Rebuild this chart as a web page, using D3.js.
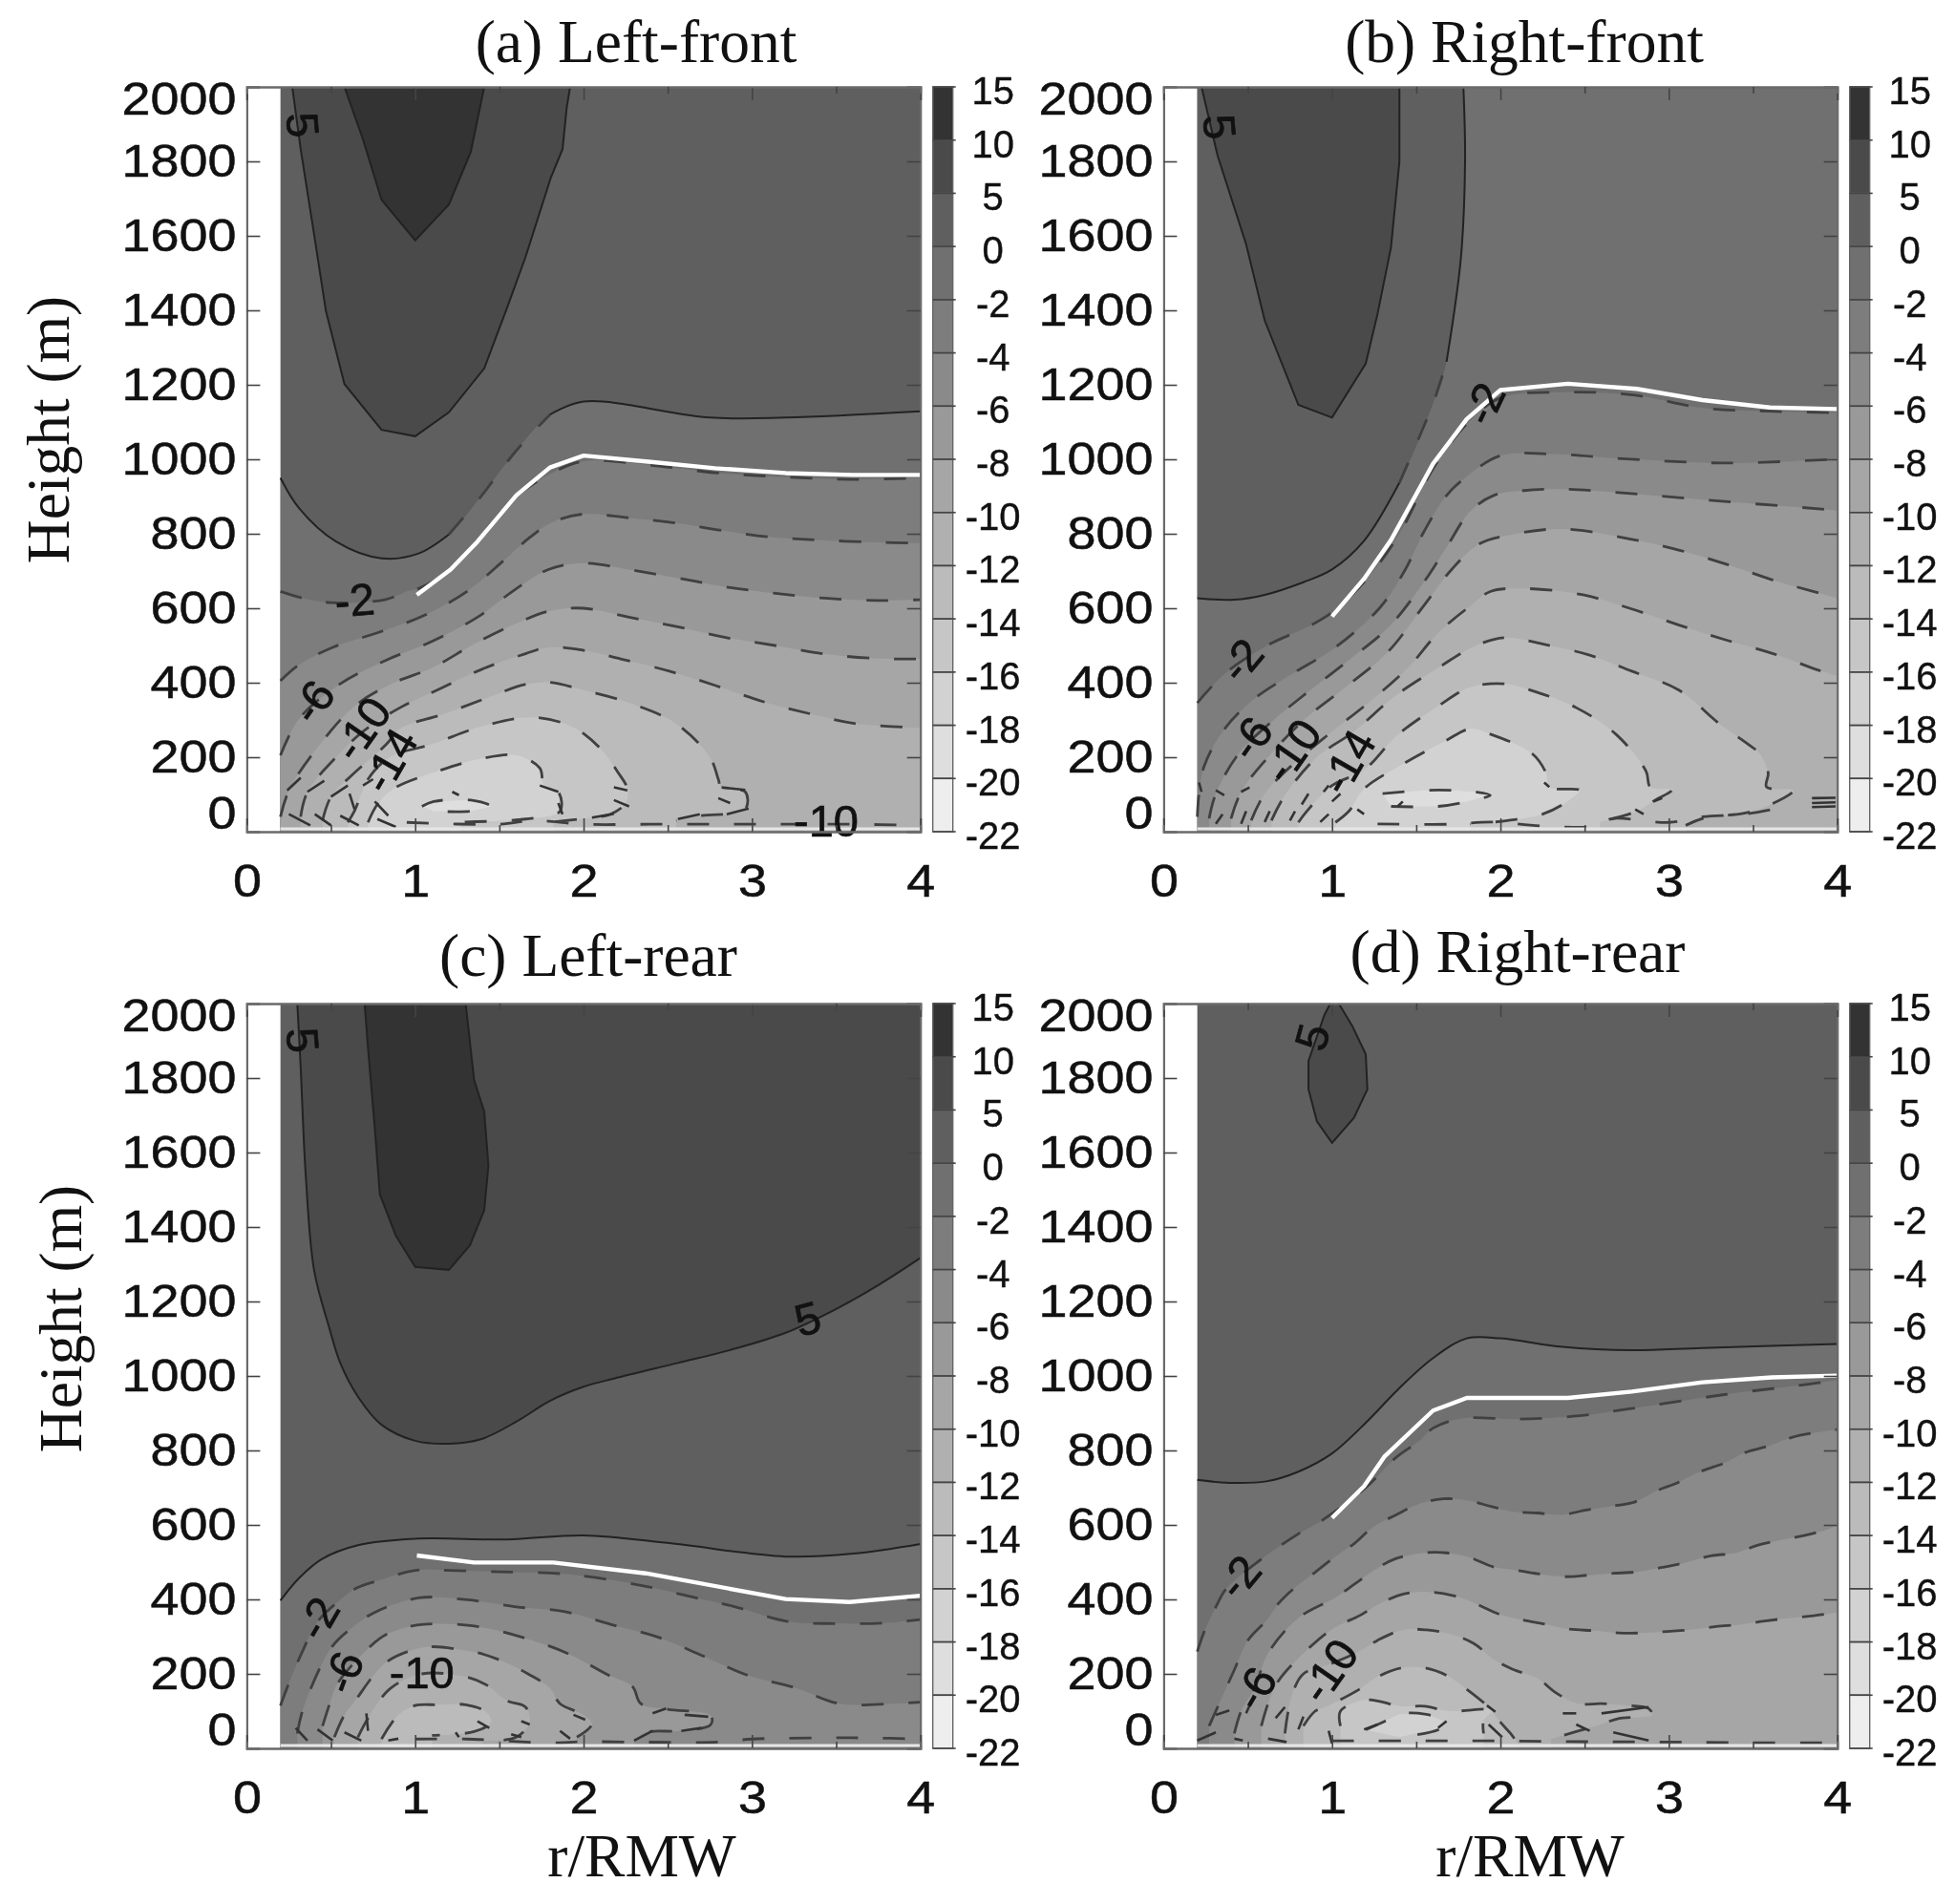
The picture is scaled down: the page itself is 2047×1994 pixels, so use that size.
<!DOCTYPE html>
<html>
<head>
<meta charset="utf-8">
<script src="https://cdn.jsdelivr.net/npm/d3@7"></script>
<style>
  html, body { margin: 0; padding: 0; background: #fff; }
  svg { display: block; filter: blur(0.7px); }
</style>
</head>
<body>
<div id="chart"></div>
<script>
// Colour bar: levels top to bottom, then the gray of the band under each level
const barLevels = [15, 10, 5, 0, -2, -4, -6, -8, -10, -12, -14, -16, -18, -20, -22];
const barGrays = ["#333333", "#4a4a4a", "#5f5f5f", "#707070", "#7d7d7d", "#8a8a8a", "#999999",
    "#a6a6a6", "#b0b0b0", "#bbbbbb", "#c6c6c6", "#d2d2d2", "#dedede", "#eeeeee"];

const heightTicks = [0, 200, 400, 600, 800, 1000, 1200, 1400, 1600, 1800, 2000];
const radiusTicks = [0, 1, 2, 3, 4];
const radiusMinor = [0.5, 1.5, 2.5, 3.5];

// Contours: [level, side filled ("up", "down", "loop"), [[r/RMW, height], ...], dashed r range]
const contoursA = [
    [5, "up", [[.27,2000],[.32,1833],[.40,1603],[.47,1398],[.58,1202],[.8,1079],[1,1062],[1.2,1126],[1.41,1244],[1.545,1406],[1.655,1543],[1.806,1757],[1.875,1833],[1.9,1945],[1.92,2000]]],
    [10, "up", [[.58,2000],[.69,1859],[.8,1697],[1,1588],[1.2,1684],[1.33,1825],[1.41,2000]]],
    [0, "down", [[.2,950],[.31,869],[.53,779],[.8,734],[1.02,747],[1.2,798],[1.38,894],[1.6,1023],[1.8,1120],[2,1155],[2.75,1112],[3.2,1112],[4,1129]], [1.2, 1.8]],
    [-2, "down", [[.2,645],[.335,627],[.5,615],[.82,623],[.95,645],[1.02,653],[1.2,700],[1.4,800],[1.6,900],[1.8,960],[2,995],[2.4,984],[2.8,963],[3.2,952],[3.6,946],[4,950]]],
    [-4, "down", [[.2,405],[.31,448],[.51,495],[.775,534],[1.05,580],[1.31,646],[1.53,730],[1.68,790],[1.81,830],[2,853],[2.26,843],[2.53,830],[2.82,809],[3.11,791],[3.41,783],[3.74,777],[4,775]]],
    [-6, "down", [[.2,205],[.31,303],[.555,397],[.83,461],[1.105,512],[1.37,576],[1.59,649],[1.79,704],[2,721],[2.27,704],[2.56,681],[2.85,657],[3.14,640],[3.43,627],[3.74,621],[4,623]]],
    [-8, "down", [[.2,40],[.25,111],[.42,226],[.64,337],[.86,397],[1.1,440],[1.35,504],[1.6,559],[1.8,593],[2,600],[2.27,576],[2.55,551],[2.85,521],[3.15,499],[3.45,476],[3.75,465],[4,464]]],
    [-10, "down", [[.32,40],[.36,107],[.53,200],[.69,269],[.91,333],[1.13,380],[1.39,435],[1.655,478],[1.79,495],[2,487],[2.22,464],[2.51,431],[2.78,393],[3.06,350],[3.35,316],[3.62,290],[4,279]]],
    [-12, "down", [[.45,30],[.5,94],[.62,150],[.83,235],[.91,277],[1.17,316],[1.42,358],[1.65,395],[1.8,401],[2,380],[2.27,346],[2.55,290],[2.75,200],[2.8,141],[2.82,115],[2.96,107],[2.96,60],[2.7,43],[2.55,30]]],
    [-14, "down", [[.6,25],[.64,56],[.72,141],[.85,200],[1.1,235],[1.39,282],[1.68,307],[1.89,290],[2.01,260],[2.12,213],[2.2,162],[2.26,115],[2.25,77],[2.16,47],[2.05,38],[1.82,26]]],
    [-16, "down", [[.72,25],[.775,73],[.87,115],[1.13,162],[1.39,196],[1.6,205],[1.74,171],[1.765,124],[1.85,107],[1.86,55],[1.655,34],[1.27,26]]],
    [-18, "loop", [[1.04,68],[1.11,81],[1.33,85],[1.45,68],[1.33,55],[1.11,55]]]
];
const whiteA = [[1.01,636],[1.21,704],[1.37,779],[1.6,903],[1.8,978],[2,1010],[2.4,993],[2.78,976],[3.2,963],[3.6,958],[4,958]];
const labelsA = [[.335,1898,"5",85],[.64,623,"-2",-5],[.39,350,"-6",-55],[.68,277,"-10",-55],[.845,192,"-14",-60],[3.44,30,"-10",0]];
const bottomA = [[.95,25],[1.5,20],[1.7,30],[2,20],[2.4,20],[2.8,20],[3.2,20],[3.6,20],[4,17]];
const marksA = [
    [[.25,47],[.377,17]], [[.404,47],[.5,17]], [[.555,43],[.665,17]], [[.775,34],[.885,13]],
    [[.24,111],[.32,145]], [[.36,107],[.46,137]], [[.5,94],[.6,124]], [[.61,102],[.64,60]],
    [[.69,124],[.75,141]], [[.76,81],[.84,43]], [[1.22,107],[1.26,98]], [[1.74,124],[1.85,107]],
    [[1.85,77],[1.875,47]], [[2.18,119],[2.26,111]], [[2.18,85],[2.27,68]], [[2.8,90],[2.87,77]],
    [[2.82,119],[2.96,112]], [[2.85,47],[2.98,62]], [[2.56,34],[2.69,47]], [[2.05,38],[2.18,48]]
];

const contoursB = [
    [0, "up", [[.2,627],[.42,623],[.6,636],[.83,670],[1,704],[1.19,781],[1.4,937],[1.6,1150],[1.68,1262],[1.765,1540],[1.79,1800],[1.78,2000]], [1.2, 1.68]],
    [5, "up", [[.225,2000],[.32,1816],[.49,1577],[.6,1373],[.8,1146],[1,1112],[1.2,1257],[1.27,1390],[1.35,1569],[1.4,1799],[1.4,2000]]],
    [-2, "down", [[.2,346],[.36,423],[.61,499],[.86,551],[1,589],[1.2,675],[1.4,800],[1.6,975],[1.8,1095],[2,1165],[2.4,1180],[2.8,1172],[3.2,1138],[3.6,1129],[4,1125]]],
    [-4, "down", [[.2,40],[.21,102],[.24,175],[.35,269],[.53,354],[.76,423],[1.02,495],[1.285,602],[1.435,704],[1.545,805],[1.68,903],[1.79,950],[2,1010],[2.3,1014],[2.75,1001],[3.33,990],[3.94,999],[4,1000]]],
    [-6, "down", [[.27,35],[.31,102],[.445,209],[.64,295],[.87,380],[1.1,461],[1.34,551],[1.545,670],[1.68,764],[1.82,860],[1.96,903],[2.14,916],[2.37,920],[2.66,912],[3.24,890],[3.94,865],[4,862]]],
    [-8, "down", [[.4,35],[.46,107],[.62,200],[.84,303],[1.08,388],[1.33,482],[1.55,610],[1.71,704],[1.875,773],[2.07,798],[2.37,813],[2.78,785],[3.07,755],[3.35,717],[3.63,674],[3.9,640],[4,627]]],
    [-10, "down", [[.52,30],[.6,102],[.775,184],[1,269],[1.215,346],[1.45,440],[1.63,534],[1.82,606],[1.94,645],[2.14,653],[2.49,636],[2.78,598],[3.06,555],[3.33,516],[3.62,478],[3.88,435],[4,418]]],
    [-12, "down", [[.64,30],[.72,98],[.91,200],[1.13,269],[1.37,363],[1.63,440],[1.85,499],[2.03,521],[2.25,504],[2.53,474],[2.78,431],[3.06,380],[3.3,290],[3.47,235],[3.54,209],[3.59,158],[3.58,120],[3.74,111],[3.58,68],[3.44,49],[3.22,38],[3.1,17]]],
    [-14, "down", [[.8,25],[.85,55],[1,124],[1.19,166],[1.39,260],[1.63,337],[1.82,388],[2.03,397],[2.18,380],[2.45,333],[2.69,260],[2.865,162],[2.89,120],[3.02,113],[2.92,85],[2.81,55],[2.59,26]]],
    [-16, "down", [[1.02,25],[1.1,55],[1.19,115],[1.41,179],[1.67,243],[1.82,276],[1.94,262],[2.19,209],[2.27,158],[2.29,120],[2.47,111],[2.41,85],[2.25,47],[2.04,30],[1.82,20]]],
    [-18, "loop", [[1.3,102],[1.55,111],[1.72,111],[1.85,107],[1.94,98],[1.8,81],[1.63,68],[1.35,68]]]
];
const whiteB = [[1,578],[1.19,679],[1.35,783],[1.6,988],[1.8,1108],[2,1186],[2.4,1203],[2.81,1189],[3.2,1159],[3.6,1139],[4,1135]];
const labelsB = [[.335,1893,"5",85],[1.9,1150,"-2",-65],[.46,461,"-2",-50],[.515,252,"-6",-55],[.76,218,"-10",-55],[1.09,188,"-14",-60]];
const bottomB = [[1.27,21],[1.7,20],[1.95,26],[2.25,15],[2.6,17],[2.65,34],[3,25],[3.2,40],[3.45,47],[3.7,68]];
const marksB = [
    [[.21,132],[.225,107]], [[.31,111],[.36,98]], [[.46,107],[.51,119]], [[.31,21],[.35,47]],
    [[.46,21],[.49,55]], [[.6,26],[.63,55]], [[.75,30],[.78,55]], [[.93,26],[.98,47]],
    [[.82,73],[.86,102]], [[1,81],[1.05,102]], [[.95,107],[.98,124]], [[1.15,60],[1.19,47]],
    [[1.39,68],[1.42,81]], [[2.8,60],[2.85,47]], [[2.91,81],[2.96,90]], [[2.26,132],[2.29,120]],
    [[3.85,90],[3.99,91]], [[3.85,77],[3.99,79]], [[3.85,66],[3.99,68]]
];

const contoursC = [
    [5, "up", [[.3,2000],[.32,1829],[.35,1539],[.4,1283],[.49,1129],[.555,1035],[.665,941],[.8,869],[1,826],[1.2,818],[1.39,830],[1.6,877],[1.8,933],[2,971],[2.18,993],[2.56,1035],[2.865,1069],[3.2,1116],[3.5,1180],[3.75,1244],[4,1317]]],
    [10, "up", [[.7,2000],[.72,1880],[.76,1667],[.79,1488],[.885,1377],[1,1293],[1.2,1285],[1.325,1351],[1.41,1445],[1.435,1565],[1.41,1710],[1.35,1795],[1.3,2000]]],
    [0, "down", [[.2,397],[.31,457],[.445,508],[.665,546],[1,563],[1.545,561],[2,572],[2.51,551],[3.2,515],[3.6,523],[4,549]]],
    [-2, "down", [[.2,115],[.25,175],[.33,260],[.42,340],[.55,397],[.65,430],[.8,453],[1,478],[1.2,478],[1.5,474],[1.8,471],[2.05,460],[2.37,435],[2.65,406],[2.9,380],[3.21,341],[3.5,335],[3.8,337],[4,346]]],
    [-4, "down", [[.3,40],[.335,107],[.5,269],[.625,324],[.75,363],[1.02,404],[1.31,399],[1.6,380],[1.89,367],[2.16,333],[2.44,299],[2.71,248],[2.975,196],[3.26,162],[3.52,120],[3.83,120],[4,124]]],
    [-6, "down", [[.45,60],[.5,130],[.54,175],[.79,295],[.91,320],[1.05,333],[1.34,329],[1.63,299],[1.9,256],[2.15,196],[2.29,166],[2.34,120],[2.5,105],[2.755,88],[2.755,64],[2.58,47],[2.37,43],[2.3,21]]],
    [-8, "down", [[.52,30],[.58,90],[.65,132],[.76,200],[.84,235],[.99,265],[1.1,273],[1.27,265],[1.41,252],[1.56,226],[1.67,200],[1.8,162],[1.86,120],[2,90],[2.05,65],[1.96,30]]],
    [-10, "down", [[.66,30],[.72,81],[.85,160],[1.04,200],[1.3,192],[1.42,171],[1.545,128],[1.655,111],[1.68,70],[1.6,30],[1.4,20]]],
    [-12, "down", [[.8,25],[.9,90],[1,115],[1.13,117],[1.3,117],[1.42,98],[1.45,70],[1.35,45],[1.1,35]]]
];
const whiteC = [[1.01,518],[1.35,499],[1.82,499],[2.37,470],[3.2,401],[3.58,393],[4,410]];
const labelsC = [[.335,1902,"5",85],[3.33,1155,"5",-15],[.42,350,"-2",-60],[.57,205,"-6",-70],[1.04,205,"-10",0]];
const bottomC = [[1,25],[1.3,25],[1.8,15],[2,18],[2.3,17],[2.8,17],[3,25],[3.4,28],[3.7,28],[4,25]];
const marksC = [
    [[.29,55],[.36,21]], [[.42,51],[.51,21]], [[.58,43],[.68,21]], [[.71,94],[.72,47]],
    [[.84,21],[.9,26]], [[1.24,43],[1.26,30]], [[1.37,73],[1.44,55]], [[1.63,73],[1.68,64]],
    [[1.57,38],[1.63,30]], [[1.86,47],[1.92,26]], [[1.94,90],[2.01,77]], [[2.41,94],[2.49,107]],
    [[2.3,21],[2.41,47]], [[2.6,90],[2.74,85]], [[2.58,47],[2.7,55]]
];

const contoursD = [
    [5, "up", [[.99,2000],[.955,1970],[.86,1846],[.86,1770],[.91,1684],[1,1626],[1.13,1693],[1.21,1770],[1.2,1864],[1.12,1940],[1.04,2000]]],
    [0, "down", [[.2,721],[.39,713],[.61,717],[.8,743],[1,792],[1.215,881],[1.39,963],[1.6,1048],[1.8,1101],[2,1101],[2.37,1078],[2.78,1069],[3.2,1075],[4,1086]]],
    [-2, "down", [[.2,260],[.24,312],[.31,380],[.376,431],[.58,508],[.8,576],[.95,615],[1.2,700],[1.38,781],[1.52,826],[1.6,860],[1.77,886],[2.1,884],[2.47,893],[2.755,911],[3.33,950],[3.83,978],[4,989]]],
    [-4, "down", [[.27,60],[.418,209],[.5,290],[.615,346],[.68,388],[.775,430],[.9,473],[1.02,515],[1.135,551],[1.24,593],[1.38,627],[1.52,657],[1.66,670],[1.8,666],[1.95,649],[2.07,636],[2.22,632],[2.36,627],[2.51,640],[2.64,649],[2.8,662],[2.93,692],[3.05,713],[3.18,742],[3.34,768],[3.45,794],[3.6,813],[3.73,835],[3.9,850],[4,856]]],
    [-6, "down", [[.42,40],[.46,100],[.54,162],[.62,255],[.8,350],[1.02,405],[1.13,440],[1.25,478],[1.37,508],[1.55,525],[1.68,525],[1.82,512],[1.96,487],[2.1,478],[2.22,469],[2.38,461],[2.52,465],[2.67,470],[2.81,474],[2.96,486],[3.1,499],[3.25,517],[3.4,525],[3.53,546],[3.66,559],[3.81,572],[3.95,589],[4,600]]],
    [-8, "down", [[.58,60],[.62,120],[.68,180],[.83,255],[1,320],[1.17,358],[1.28,388],[1.43,415],[1.57,420],[1.72,410],[1.85,389],[2,359],[2.12,346],[2.27,333],[2.41,320],[2.56,316],[2.7,310],[2.85,310],[2.99,314],[3.14,319],[3.28,327],[3.43,333],[3.57,342],[3.72,350],[3.86,356],[4,365]]],
    [-10, "down", [[.72,40],[.76,140],[.83,200],[.98,225],[1.16,260],[1.27,290],[1.42,318],[1.56,318],[1.7,307],[1.84,282],[1.96,239],[2.07,213],[2.22,188],[2.33,149],[2.46,120],[2.6,120],[2.76,115],[2.88,107],[2.9,90],[2.7,80],[2.6,65],[2.45,45],[2.3,25]]],
    [-12, "down", [[.83,60],[.9,100],[.98,115],[1.16,158],[1.27,192],[1.41,216],[1.55,216],[1.68,196],[1.79,162],[1.93,110],[2,70],[2.06,40],[2.1,15]]],
    [-14, "down", [[1.05,60],[1.05,100],[1.2,130],[1.41,113],[1.55,113],[1.7,100],[1.93,105],[1.95,100],[1.9,75],[1.9,40]]],
    [-16, "loop", [[1.2,50],[1.3,70],[1.4,92],[1.55,92],[1.66,75],[1.65,55],[1.4,30]]]
];
const whiteD = [[1,619],[1.19,704],[1.31,783],[1.6,907],[1.8,941],[2.4,941],[2.78,958],[3.2,983],[3.61,996],[4,1001]];
const labelsD = [[.88,1910,"5",-75],[.445,461,"-2",-50],[.54,162,"-6",-60],[.98,209,"-10",-55]];
const bottomD = [[1,20],[1.5,20],[2,20],[2.5,18],[3,17],[3.5,15],[4,15]];
const marksD = [
    [[.2,21],[.31,43]], [[.42,26],[.47,21]], [[.62,26],[.73,17]], [[.31,90],[.39,102]],
    [[.49,94],[.51,115]], [[.665,81],[.72,111]], [[.8,51],[.83,85]], [[.98,47],[1,13]],
    [[1.19,51],[1.27,64]], [[1.63,55],[1.68,73]], [[1.92,115],[1.97,98]], [[1.93,64],[2.01,30]],
    [[2.37,94],[2.45,94]], [[2.45,64],[2.53,47]], [[2.6,94],[2.88,111]], [[2.67,43],[2.88,21]]
];

// Layout of the four panels
var width = 2047, height = 1994;
var plotWidth = 705.3, plotHeight = 780;
var SANS = "'Liberation Sans', sans-serif", SERIF = "'Liberation Serif', serif";

var panels = [
    {left: 258.4, top: 91, base: 1, title: "(a) Left-front", titleX: 666, titleY: 65, contours: contoursA, white: whiteA, labels: labelsA, bottom: bottomA, marks: marksA},
    {left: 1218.4, top: 91, base: -1, title: "(b) Right-front", titleX: 1596, titleY: 65, contours: contoursB, white: whiteB, labels: labelsB, bottom: bottomB, marks: marksB},
    {left: 258.4, top: 1051, base: 1, title: "(c) Left-rear", titleX: 616, titleY: 1022, contours: contoursC, white: whiteC, labels: labelsC, bottom: bottomC, marks: marksC},
    {left: 1218.4, top: 1051, base: 1, title: "(d) Right-rear", titleX: 1589, titleY: 1018, contours: contoursD, white: whiteD, labels: labelsD, bottom: bottomD, marks: marksD}
];

var svg = d3.select("#chart").append("svg")
    .attr("width", width)
    .attr("height", height);

// Value to gray, shared by the panels and the colour bars
var bandColor = d3.scaleThreshold()
    .domain(barLevels.slice(1, -1).reverse())
    .range(barGrays.slice().reverse());

var x = d3.scaleLinear().domain([0, 4]).range([0, plotWidth]);
var y = d3.scaleLinear().domain([0, 2000]).range([plotHeight, 0]);
var barY = d3.scalePoint().domain(barLevels).range([0, plotHeight]);

var smooth = d3.line().x(d => x(d[0])).y(d => y(d[1])).curve(d3.curveCatmullRom.alpha(0.5));
var straight = d3.line().x(d => x(d[0])).y(d => y(d[1]));

// The short blobs at the top have sharp tips, so they keep straight pieces
function lineFor(c) {
    return (c[0] > 0 && c[2].length < 16) ? straight : smooth;
}

// Closed outline of a contour, run along the top or bottom edge of the plot
function regionPath(c) {
    var pts = c[2];
    if (c[1] == "loop") {
        return straight(pts) + "Z";
    }
    var edge = c[1] == "up" ? 2000 : 0;
    return lineFor(c)(pts) + "L" + x(pts[pts.length - 1][0]) + "," + y(edge) + "L" + x(pts[0][0]) + "," + y(edge) + "Z";
}

function drawStroke(g, pts, dashed, gen) {
    g.append("path")
        .attr("d", gen(pts))
        .attr("fill", "none")
        .attr("stroke", dashed ? "#404040" : "#222")
        .attr("stroke-width", dashed ? 2.8 : 2)
        .attr("stroke-dasharray", dashed ? "23 26" : null);
}

panels.forEach(function(p) {
    var g = svg.append("g").attr("transform", "translate(" + p.left + "," + p.top + ")");

    // Shaded bands, painted from the outside in
    g.append("rect")
        .attr("x", x(0.2))
        .attr("y", 0)
        .attr("width", x(4) - x(0.2))
        .attr("height", plotHeight)
        .attr("fill", bandColor(p.base));

    p.contours.forEach(function(c) {
        g.append("path")
            .attr("d", regionPath(c))
            .attr("fill", bandColor(c[1] == "up" ? c[0] + 0.5 : c[0] - 0.5));
    });

    // Contour lines, dashed below zero. Some zero lines are dashed over a stretch of r
    p.contours.forEach(function(c) {
        if (c[3]) {
            var inside = c[2].filter(d => d[0] >= c[3][0] && d[0] <= c[3][1]);
            var first = c[2].indexOf(inside[0]), last = c[2].indexOf(inside[inside.length - 1]);
            drawStroke(g, c[2].slice(0, first + 1), false, smooth);
            drawStroke(g, c[2].slice(first, last + 1), true, smooth);
            drawStroke(g, c[2].slice(last), false, smooth);
        } else {
            drawStroke(g, c[2], c[0] < 0, lineFor(c));
        }
    });

    // The broken line close to the ground and the little pieces around it
    drawStroke(g, p.bottom, true, smooth);
    p.marks.forEach(function(m) {
        g.append("path")
            .attr("d", straight(m))
            .attr("fill", "none")
            .attr("stroke", "#333")
            .attr("stroke-width", 2.6);
    });

    g.append("line")
        .attr("x1", x(0.2)).attr("x2", x(4))
        .attr("y1", y(8)).attr("y2", y(8))
        .attr("stroke", "#e6e6e6")
        .attr("stroke-width", 3);

    // White line
    g.append("path")
        .attr("d", straight(p.white))
        .attr("fill", "none")
        .attr("stroke", "#fff")
        .attr("stroke-width", 4.4)
        .attr("stroke-linejoin", "round");

    // Contour labels
    p.labels.forEach(function(l) {
        g.append("text")
            .attr("transform", "translate(" + x(l[0]) + "," + y(l[1]) + ") rotate(" + l[3] + ")")
            .attr("dy", "0.36em")
            .attr("text-anchor", "middle")
            .style("font", "47px " + SANS)
            .style("fill", "#111")
            .style("stroke", "#111")
            .style("stroke-width", 0.7)
            .text(l[2]);
    });

    // Axes
    var leftAxis = g.append("g").call(d3.axisLeft(y).tickValues(heightTicks).tickSize(-14).tickPadding(10).tickFormat(d3.format("d")));
    g.append("g").attr("transform", "translate(" + plotWidth + ",0)")
        .call(d3.axisRight(y).tickValues(heightTicks).tickSize(-14).tickFormat(""));
    var bottomAxis = g.append("g").attr("transform", "translate(0," + plotHeight + ")")
        .call(d3.axisBottom(x).tickValues(radiusTicks).tickSize(-14).tickFormat(d3.format("d")));
    g.append("g").attr("transform", "translate(0," + plotHeight + ")")
        .call(d3.axisBottom(x).tickValues(radiusMinor).tickSize(-7).tickFormat(""));
    g.append("g").call(d3.axisTop(x).tickValues(radiusTicks).tickSize(-14).tickFormat(""));
    g.append("g").call(d3.axisTop(x).tickValues(radiusMinor).tickSize(-7).tickFormat(""));

    leftAxis.selectAll("text")
        .attr("y", d => d == 0 ? -19 : d == 2000 ? 13 : 0)
        .attr("transform", "scale(1.1,1)");
    bottomAxis.selectAll("text")
        .attr("y", 68)
        .attr("dy", 0)
        .attr("transform", "scale(1.1,1)");

    g.selectAll(".domain").attr("stroke", "#6a6a6a").attr("stroke-width", 2.2);
    g.selectAll(".tick line").attr("stroke", "#444").attr("stroke-width", 1.6);
    g.selectAll(".tick text")
        .style("font", "49px " + SANS)
        .style("fill", "#111")
        .style("stroke", "#111")
        .style("stroke-width", 0.5);

    // Colour bar beside the panel
    var bar = g.append("g").attr("transform", "translate(" + (plotWidth + 13) + ",0)");
    bar.selectAll("rect")
        .data(barGrays)
        .join("rect")
        .attr("x", 0)
        .attr("y", (d, i) => barY(barLevels[i]))
        .attr("width", 21)
        .attr("height", (d, i) => barY(barLevels[i + 1]) - barY(barLevels[i]))
        .attr("fill", d => d)
        .attr("stroke", "#666")
        .attr("stroke-width", 1.4);
    bar.selectAll("line")
        .data(barLevels)
        .join("line")
        .attr("x1", 0).attr("x2", 24)
        .attr("y1", d => barY(d)).attr("y2", d => barY(d))
        .attr("stroke", "#444")
        .attr("stroke-width", 1.6);
    bar.selectAll("text")
        .data(barLevels)
        .join("text")
        .attr("x", 63)
        .attr("y", d => barY(d) + 4)
        .attr("dy", "0.35em")
        .attr("text-anchor", "middle")
        .style("font", "40px " + SANS)
        .style("fill", "#111")
        .style("stroke", "#111")
        .style("stroke-width", 0.4)
        .text(d => d);

    // Title
    svg.append("text")
        .attr("x", p.titleX)
        .attr("y", p.titleY)
        .attr("text-anchor", "middle")
        .style("font", "63.5px " + SERIF)
        .style("fill", "#111")
        .text(p.title);
});

// Outer axis titles
function axisTitle(text, tx, ty, angle) {
    svg.append("text")
        .attr("transform", "translate(" + tx + "," + ty + ") rotate(" + angle + ")")
        .attr("text-anchor", "middle")
        .style("font", "63.5px " + SERIF)
        .style("fill", "#111")
        .text(text);
}
axisTitle("Height (m)", 72, 450, -90);
axisTitle("Height (m)", 85, 1381, -90);
axisTitle("r/RMW", 672, 1965, 0);
axisTitle("r/RMW", 1602, 1965, 0);
</script>
</body>
</html>
